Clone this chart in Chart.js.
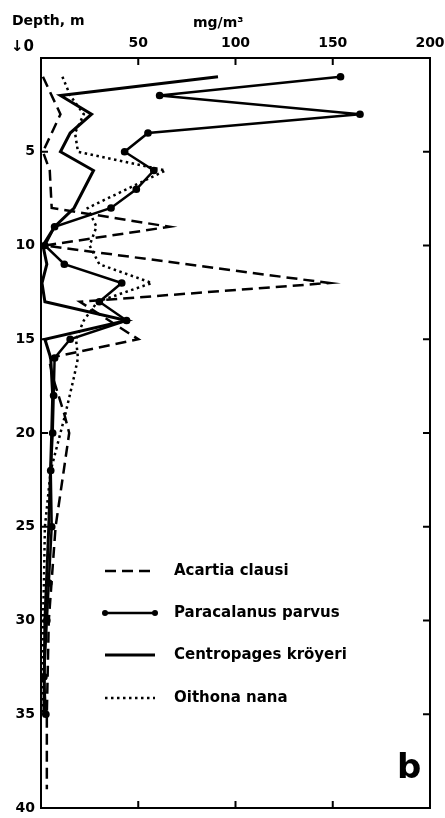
<!DOCTYPE html>
<html>
<head>
<meta charset="utf-8">
<script src="https://cdn.jsdelivr.net/npm/chart.js@4.4.1/dist/chart.umd.min.js"></script>
<style>
html, body { margin: 0; padding: 0; background: #fff; }
#wrap { width: 445px; height: 818px; }
</style>
</head>
<body>
<div id="wrap"><canvas id="grafico"></canvas></div>
<script>
// escalas
const ticksX = [0, 50, 100, 150, 200];
const ticksY = [0, 5, 10, 15, 20, 25, 30, 35, 40];

// Acartia clausi
const profAcartia = [1, 3, 5, 6, 8, 9, 10, 12, 13, 15, 16, 17, 18, 19, 20, 25, 30, 35, 39];
const valAcartia  = [1, 10, 1, 4.5, 5.5, 66, 2, 148, 20, 50, 4, 6, 9, 12, 14.5, 7.5, 4, 3, 3];

// Paracalanus parvus
const profParacalanus = [1, 2, 3, 4, 5, 6, 7, 8, 9, 10, 11, 12, 13, 14, 15, 16, 18, 20, 22, 25, 28, 30, 33, 35];
const valParacalanus  = [154, 61, 164, 55, 43, 58, 49, 36, 7, 2, 12, 41.5, 30, 44, 15, 7, 6.5, 6, 5, 5.5, 4, 3, 1.5, 2.5];

// Centropages kröyeri
const profCentropages = [1, 2, 3, 4, 5, 6, 8, 9, 10, 11, 12, 13, 14, 15, 16, 18, 20, 25, 30, 35];
const valCentropages  = [91, 10, 26, 15, 10, 27, 17, 7, 1, 3, 0.5, 2, 44, 2, 5, 6, 5.5, 4, 2, 1.5];

// Oithona nana
const profOithona = [1, 2, 3, 4, 5, 6, 8, 9, 10, 11, 12, 13, 14, 15, 16, 17, 19, 20, 22, 25, 28, 30, 35];
const valOithona  = [11, 15, 22, 17.5, 19, 64, 24, 28.5, 25, 30, 57, 29, 22, 18, 19, 17, 12.5, 10, 5, 2, 1.5, 1, 0.5];

const nombres = ['Acartia clausi', 'Paracalanus parvus', 'Centropages kröyeri', 'Oithona nana'];

const FUENTE = '"DejaVu Sans", sans-serif';

function puntos(prof, val) {
    return prof.map((p, i) => ({ x: val[i], y: p }));
}

const datasets = [
    { label: nombres[0], data: puntos(profAcartia, valAcartia), borderDash: [11, 6], borderWidth: 2.5, pointRadius: 0 },
    { label: nombres[1], data: puntos(profParacalanus, valParacalanus), borderWidth: 2.5, pointRadius: 2.6, pointBackgroundColor: '#000' },
    { label: nombres[2], data: puntos(profCentropages, valCentropages), borderWidth: 3, pointRadius: 0 },
    { label: nombres[3], data: puntos(profOithona, valOithona), borderDash: [2.5, 3.5], borderWidth: 2.5, pointRadius: 0 }
].map(d => Object.assign({ showLine: true, borderColor: '#000', backgroundColor: '#000', tension: 0, fill: false }, d));

const marco = {
    id: 'marco',
    afterDatasetsDraw(chart) {
        const { ctx, chartArea: a, scales } = chart;
        ctx.save();
        ctx.strokeStyle = '#000';
        ctx.lineWidth = 2;
        ctx.strokeRect(a.left, a.top, a.right - a.left, a.bottom - a.top);
        ctx.beginPath();
        ticksX.slice(1, -1).forEach(v => {
            const x = scales.x.getPixelForValue(v);
            ctx.moveTo(x, a.top); ctx.lineTo(x, a.top + 7);
            ctx.moveTo(x, a.bottom); ctx.lineTo(x, a.bottom - 7);
        });
        ticksY.slice(1, -1).forEach(v => {
            const y = scales.y.getPixelForValue(v);
            ctx.moveTo(a.left, y); ctx.lineTo(a.left + 7, y);
            ctx.moveTo(a.right, y); ctx.lineTo(a.right - 7, y);
        });
        ctx.stroke();
        ctx.restore();
    },
    afterDraw(chart) {
        const { ctx } = chart;
        ctx.save();
        ctx.fillStyle = '#000';
        ctx.textBaseline = 'alphabetic';
        ctx.font = 'bold 14px ' + FUENTE;
        ctx.fillText('Depth, m', 12, 25);
        ctx.fillText('mg/m³', 193, 27);
        ctx.font = 'bold 15px ' + FUENTE;
        ctx.fillText('↓0', 11, 51);

        // leyenda
        const x0 = 105, x1 = 155, xt = 174;
        const filas = [571, 613, 655, 698];
        chart.data.datasets.forEach((d, i) => {
            const y = filas[i];
            ctx.beginPath();
            ctx.strokeStyle = '#000';
            ctx.lineWidth = d.borderWidth;
            ctx.setLineDash(d.borderDash || []);
            ctx.moveTo(x0, y); ctx.lineTo(x1, y);
            ctx.stroke();
            ctx.setLineDash([]);
            if (d.pointRadius) {
                [x0, x1].forEach(px => {
                    ctx.beginPath();
                    ctx.arc(px, y, 3, 0, Math.PI * 2);
                    ctx.fill();
                });
            }
            ctx.font = 'bold 15px ' + FUENTE;
            ctx.textBaseline = 'middle';
            ctx.fillText(d.label, xt, y);
        });

        ctx.font = 'bold 34px ' + FUENTE;
        ctx.textBaseline = 'alphabetic';
        ctx.fillText('b', 397, 778);
        ctx.restore();
    }
};

new Chart(document.getElementById('grafico'), {
    type: 'scatter',
    data: { datasets },
    plugins: [marco],
    options: {
        responsive: true,
        maintainAspectRatio: false,
        animation: false,
        layout: { padding: { top: 0, right: 15, bottom: 10, left: 0 } },
        plugins: { legend: { display: false }, tooltip: { enabled: false } },
        scales: {
            x: {
                type: 'linear', position: 'top', min: 0, max: 200,
                afterBuildTicks: s => { s.ticks = ticksX.map(v => ({ value: v })); },
                afterFit: s => { s.height = 58; s.paddingLeft = 0; s.paddingRight = 0; },
                grid: { display: false, drawTicks: false },
                border: { display: false },
                ticks: {
                    color: '#000', padding: 6, maxRotation: 0,
                    font: { family: FUENTE, size: 14, weight: 'bold' },
                    callback: v => v === 0 ? '' : v
                }
            },
            y: {
                type: 'linear', reverse: true, min: 0, max: 40,
                afterBuildTicks: s => { s.ticks = ticksY.map(v => ({ value: v })); },
                afterFit: s => { s.width = 41; s.paddingTop = 0; s.paddingBottom = 0; },
                grid: { display: false, drawTicks: false },
                border: { display: false },
                ticks: {
                    color: '#000', padding: 6,
                    font: { family: FUENTE, size: 14, weight: 'bold' },
                    callback: v => v === 0 ? '' : v
                }
            }
        }
    }
});
</script>
</body>
</html>
